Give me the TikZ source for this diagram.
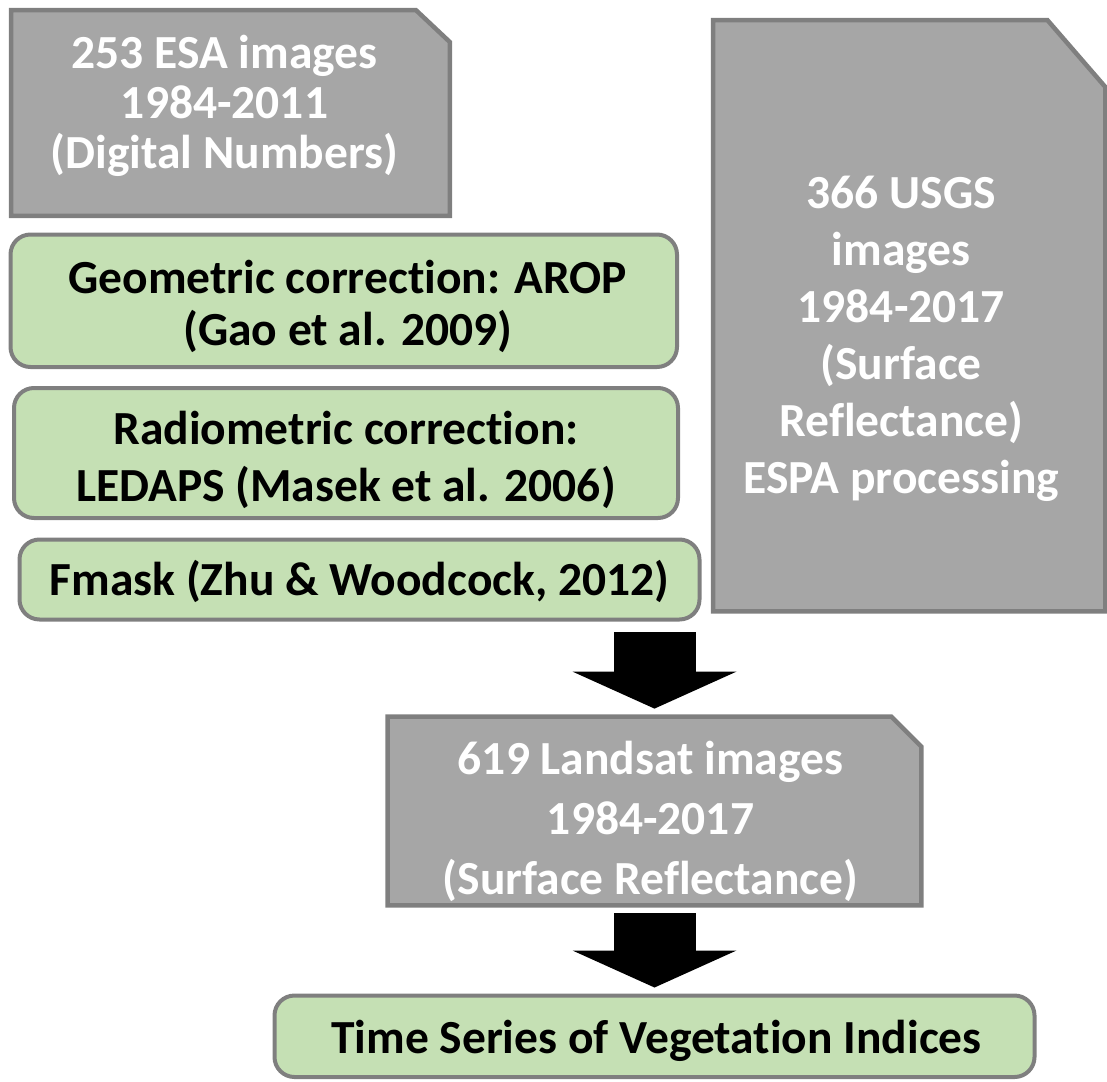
\documentclass[tikz,border=0pt]{standalone}
\usepackage{fontspec}
\setmainfont{Carlito}[Ligatures=NoCommon]
\usetikzlibrary{positioning,arrows.meta,calc,backgrounds}

\definecolor{boxgray}{HTML}{A6A6A6}
\definecolor{edgegray}{HTML}{7F7F7F}
\definecolor{stepgreen}{HTML}{C5E0B4}

\begin{document}
\begin{tikzpicture}[x=0.5pt,y=-0.5pt,
  font=\fontsize{23.75}{28.5}\selectfont\bfseries,
  srcbox/.style={inner sep=0pt},
  srcedge/.style={fill=boxgray,draw=edgegray,line width=2.25pt,line join=miter},
  proc/.style={draw=edgegray,fill=stepgreen,line width=2pt,rounded corners=10pt,inner sep=0pt},
  txt/.style={inner sep=0pt,align=center},
  flow/.style={line width=41pt,-{Triangle[length=18.5pt,width=82pt,line width=0pt]}}]
\useasboundingbox (0,0) rectangle (1107,1081);

% image sources
\node[srcbox,minimum width=219pt,minimum height=102.5pt] (esa) at (230.5,113) {};
\node[srcbox,minimum width=195.75pt,minimum height=295.25pt] (usgs) at (909.25,315.75) {};

% preprocessing of the ESA scenes
\node[proc,minimum width=333.25pt,minimum height=66.25pt] (geo) at (343.75,300.75) {};
\node[proc,minimum width=332pt,minimum height=65pt] (rad) at (346,453) {};
\node[proc,minimum width=340pt,minimum height=40pt] (fmask) at (359.5,579.5) {};

% merged archive and output
\node[srcbox,minimum width=266.5pt,minimum height=94pt] (landsat) at (654.5,811) {};
\node[proc,minimum width=380pt,minimum height=40.75pt] (ts) at (654.5,1036.25) {};

\begin{scope}[on background layer]
\draw[srcedge] (esa.south west) |- ($(esa.north east)+(-34,0)$) -- ($(esa.north east)+(0,32)$) -- (esa.south east) -- cycle;
\draw[srcedge] (usgs.south west) |- ($(usgs.north east)+(-58,0)$) -- ($(usgs.north east)+(0,67)$) -- (usgs.south east) -- cycle;
\draw[srcedge] (landsat.south west) |- ($(landsat.north east)+(-30,0)$) -- ($(landsat.north east)+(0,30)$) -- (landsat.south east) -- cycle;
\end{scope}

% box texts
\node[txt,text=white,font=\fontsize{23.75}{25}\selectfont\bfseries] (esa-txt) at ([xshift=-3pt,yshift=3.75pt]esa.center)
  {253 ESA images\\1984-2011\\(Digital Numbers)};
\node[txt,text=white] (usgs-txt) at ([xshift=-4pt,yshift=-11.5pt]usgs.center)
  {366 USGS\\images\\1984-2017\\(Surface\\Reflectance)\\ESPA processing};
\node[txt,font=\fontsize{23.75}{26}\selectfont\bfseries] (geo-txt) at ([xshift=2pt,yshift=-2.75pt]geo.center)
  {Geometric correction: AROP\\(Gao et al. 2009)};
\node[txt] (rad-txt) at ([yshift=-3.5pt]rad.center)
  {Radiometric correction:\\LEDAPS (Masek et al. 2006)};
\node[txt] (fmask-txt) at ([yshift=-1pt]fmask.center)
  {Fmask (Zhu \& Woodcock, 2012)};
\node[txt,text=white,font=\fontsize{23.75}{30}\selectfont\bfseries] (landsat-txt) at ([xshift=-2pt,yshift=-5pt]landsat.center)
  {619 Landsat images\\1984-2017\\(Surface Reflectance)};
\node[txt] (ts-txt) at ([xshift=1pt,yshift=-2.5pt]ts.center)
  {Time Series of Vegetation Indices};

\coordinate (a1) at (654.5,632);
\coordinate (a2) at (654.5,913);
\draw[flow,shorten >=4pt] (a1) -- (landsat.north);
\draw[flow,shorten >=3pt] (a2) -- (ts.north);
\end{tikzpicture}
\end{document}
